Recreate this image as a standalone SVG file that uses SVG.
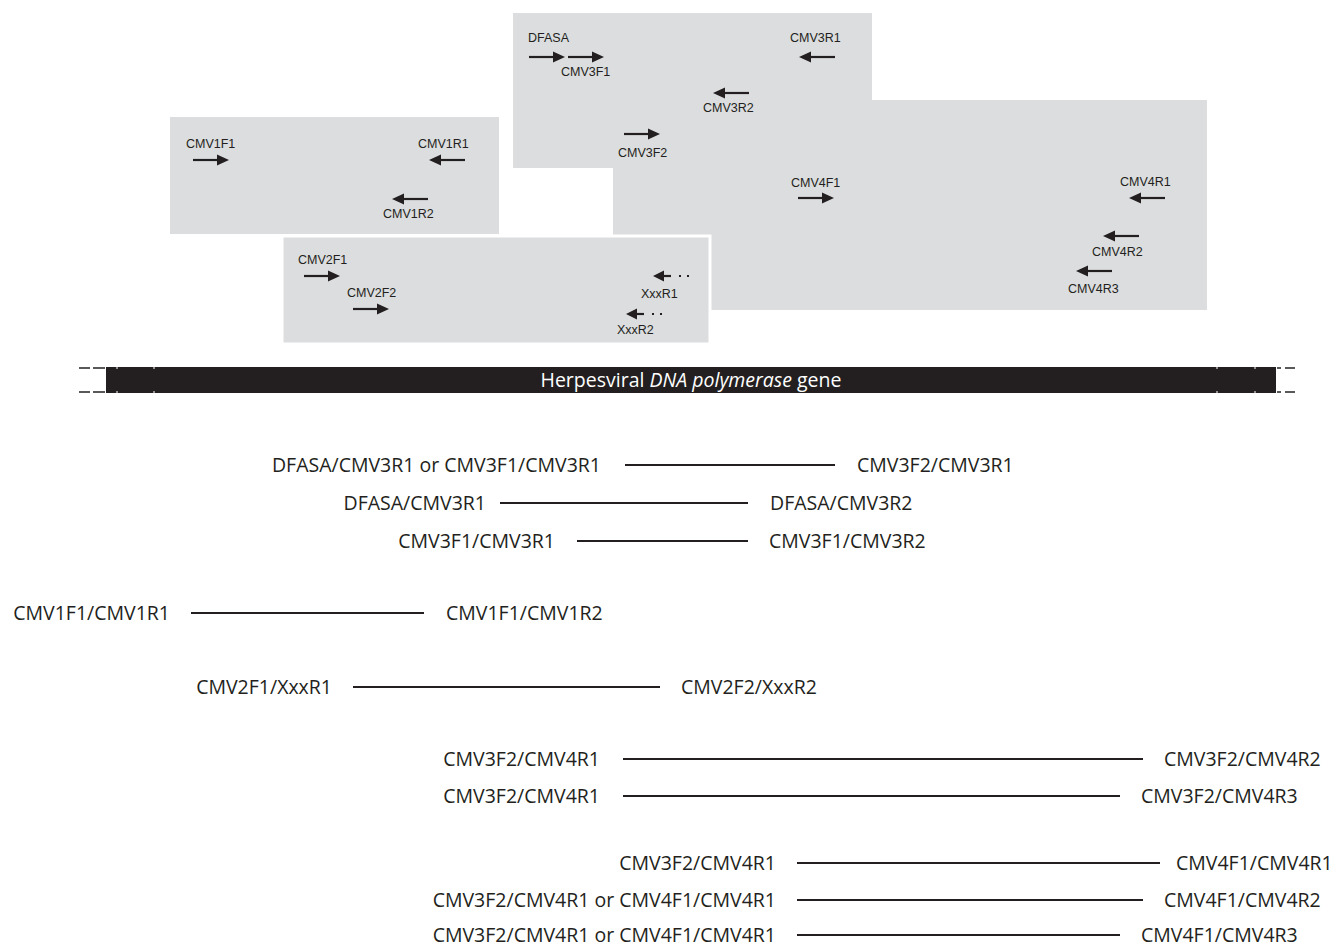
<svg xmlns="http://www.w3.org/2000/svg" xmlns:xlink="http://www.w3.org/1999/xlink" width="1337" height="946" viewBox="0 0 1337 946">
<style>
.box{fill:#dcdddf}
.box2{fill:#dcdddf;stroke:#ffffff;stroke-width:3}
.pl{font-family:"Liberation Sans",Arial,sans-serif;font-size:12.5px;fill:#231f20}
.lb{font-family:"Open Sans","Liberation Sans",sans-serif;font-size:19.5px;fill:#231f20}
.ln{stroke:#231f20;stroke-width:2;fill:none}
.gene{font-family:"Open Sans","Liberation Sans",sans-serif;font-size:19.5px;fill:#ffffff}
.dash{stroke:#58595b;stroke-width:2;fill:none}
</style>
<defs>
<g id="ar">
<line x1="0" y1="0" x2="26" y2="0" stroke="#231f20" stroke-width="2.2"/>
<polygon points="24,-5.5 36,0 24,5.5" fill="#231f20"/>
</g>
<g id="dar">
<polygon points="0,0 11,-5.5 11,5.5" fill="#231f20"/>
<line x1="10" y1="0" x2="18" y2="0" stroke="#231f20" stroke-width="2.2"/>
<rect x="26" y="-1" width="2" height="2" fill="#231f20"/>
<rect x="34" y="-1" width="2" height="2" fill="#231f20"/>
</g>
</defs>

<g id="region-cmv4">
<rect class="box" x="613" y="100" width="594" height="210"/>
<text class="pl" x="791" y="187">CMV4F1</text>
<use xlink:href="#ar" transform="translate(798,198)"/>
<text class="pl" x="1120" y="186">CMV4R1</text>
<use xlink:href="#ar" transform="translate(1165,198) scale(-1,1)"/>
<use xlink:href="#ar" transform="translate(1139,236) scale(-1,1)"/>
<text class="pl" x="1092" y="256">CMV4R2</text>
<use xlink:href="#ar" transform="translate(1112,271) scale(-1,1)"/>
<text class="pl" x="1068" y="293">CMV4R3</text>
</g>

<g id="region-cmv3">
<rect class="box" x="513" y="13" width="359" height="155"/>
<text class="pl" x="528" y="42">DFASA</text>
<use xlink:href="#ar" transform="translate(529,57)"/>
<use xlink:href="#ar" transform="translate(568,57)"/>
<text class="pl" x="561" y="76">CMV3F1</text>
<text class="pl" x="790" y="42">CMV3R1</text>
<use xlink:href="#ar" transform="translate(835,57) scale(-1,1)"/>
<use xlink:href="#ar" transform="translate(749,93) scale(-1,1)"/>
<text class="pl" x="703" y="112">CMV3R2</text>
<use xlink:href="#ar" transform="translate(624,134)"/>
<text class="pl" x="618" y="157">CMV3F2</text>
</g>

<g id="region-cmv1">
<rect class="box" x="170" y="117" width="329" height="117"/>
<text class="pl" x="186" y="148">CMV1F1</text>
<use xlink:href="#ar" transform="translate(193,160)"/>
<text class="pl" x="418" y="148">CMV1R1</text>
<use xlink:href="#ar" transform="translate(465,160) scale(-1,1)"/>
<use xlink:href="#ar" transform="translate(428,199) scale(-1,1)"/>
<text class="pl" x="383" y="218">CMV1R2</text>
</g>

<g id="region-cmv2">
<rect class="box2" x="282" y="236" width="428" height="108"/>
<text class="pl" x="298" y="264">CMV2F1</text>
<use xlink:href="#ar" transform="translate(304,276)"/>
<text class="pl" x="347" y="297">CMV2F2</text>
<use xlink:href="#ar" transform="translate(353,309)"/>
<use xlink:href="#dar" transform="translate(653,276)"/>
<text class="pl" x="641" y="298">XxxR1</text>
<use xlink:href="#dar" transform="translate(626,314)"/>
<text class="pl" x="617" y="334">XxxR2</text>
</g>

<g id="gene">
<rect x="106" y="367" width="1170" height="26" fill="#231f20"/>
<line x1="117" y1="367" x2="117" y2="369" stroke="#fff" stroke-width="1"/>
<line x1="117" y1="391" x2="117" y2="393" stroke="#fff" stroke-width="1"/>
<line x1="154" y1="367" x2="154" y2="369" stroke="#fff" stroke-width="1"/>
<line x1="154" y1="391" x2="154" y2="393" stroke="#fff" stroke-width="1"/>
<line x1="1217" y1="367" x2="1217" y2="369" stroke="#fff" stroke-width="1"/>
<line x1="1217" y1="391" x2="1217" y2="393" stroke="#fff" stroke-width="1"/>
<line x1="1255" y1="367" x2="1255" y2="369" stroke="#fff" stroke-width="1"/>
<line x1="1255" y1="391" x2="1255" y2="393" stroke="#fff" stroke-width="1"/>
<path class="dash" d="M79,368H90M93,368H105M79,392H90M93,392H105M1277,368H1281M1285,368H1295M1277,392H1281M1285,392H1295"/>
<text class="gene" x="691" y="387" text-anchor="middle">Herpesviral <tspan font-style="italic">DNA polymerase</tspan> gene</text>
</g>

<g id="products-left">
<text class="lb" x="601" y="472" text-anchor="end">DFASA/CMV3R1 or CMV3F1/CMV3R1</text>
<text class="lb" x="486" y="510" text-anchor="end">DFASA/CMV3R1</text>
<text class="lb" x="555" y="548" text-anchor="end">CMV3F1/CMV3R1</text>
<text class="lb" x="170" y="620" text-anchor="end">CMV1F1/CMV1R1</text>
<text class="lb" x="332" y="694" text-anchor="end">CMV2F1/XxxR1</text>
<text class="lb" x="600" y="766" text-anchor="end">CMV3F2/CMV4R1</text>
<text class="lb" x="600" y="803" text-anchor="end">CMV3F2/CMV4R1</text>
<text class="lb" x="776" y="870" text-anchor="end">CMV3F2/CMV4R1</text>
<text class="lb" x="776" y="907" text-anchor="end">CMV3F2/CMV4R1 or CMV4F1/CMV4R1</text>
<text class="lb" x="776" y="942" text-anchor="end">CMV3F2/CMV4R1 or CMV4F1/CMV4R1</text>
</g>

<g id="products-right">
<text class="lb" x="857" y="472">CMV3F2/CMV3R1</text>
<text class="lb" x="770" y="510">DFASA/CMV3R2</text>
<text class="lb" x="769" y="548">CMV3F1/CMV3R2</text>
<text class="lb" x="446" y="620">CMV1F1/CMV1R2</text>
<text class="lb" x="681" y="694">CMV2F2/XxxR2</text>
<text class="lb" x="1164" y="766">CMV3F2/CMV4R2</text>
<text class="lb" x="1141" y="803">CMV3F2/CMV4R3</text>
<text class="lb" x="1176" y="870">CMV4F1/CMV4R1</text>
<text class="lb" x="1164" y="907">CMV4F1/CMV4R2</text>
<text class="lb" x="1141" y="942">CMV4F1/CMV4R3</text>
</g>

<g id="connectors">
<line class="ln" x1="625" y1="465" x2="835" y2="465"/>
<line class="ln" x1="500" y1="503" x2="748" y2="503"/>
<line class="ln" x1="577" y1="541" x2="748" y2="541"/>
<line class="ln" x1="191" y1="613" x2="424" y2="613"/>
<line class="ln" x1="353" y1="687" x2="660" y2="687"/>
<line class="ln" x1="623" y1="759" x2="1143" y2="759"/>
<line class="ln" x1="623" y1="796" x2="1120" y2="796"/>
<line class="ln" x1="797" y1="863" x2="1160" y2="863"/>
<line class="ln" x1="797" y1="900" x2="1143" y2="900"/>
<line class="ln" x1="797" y1="935" x2="1120" y2="935"/>
</g>
</svg>
